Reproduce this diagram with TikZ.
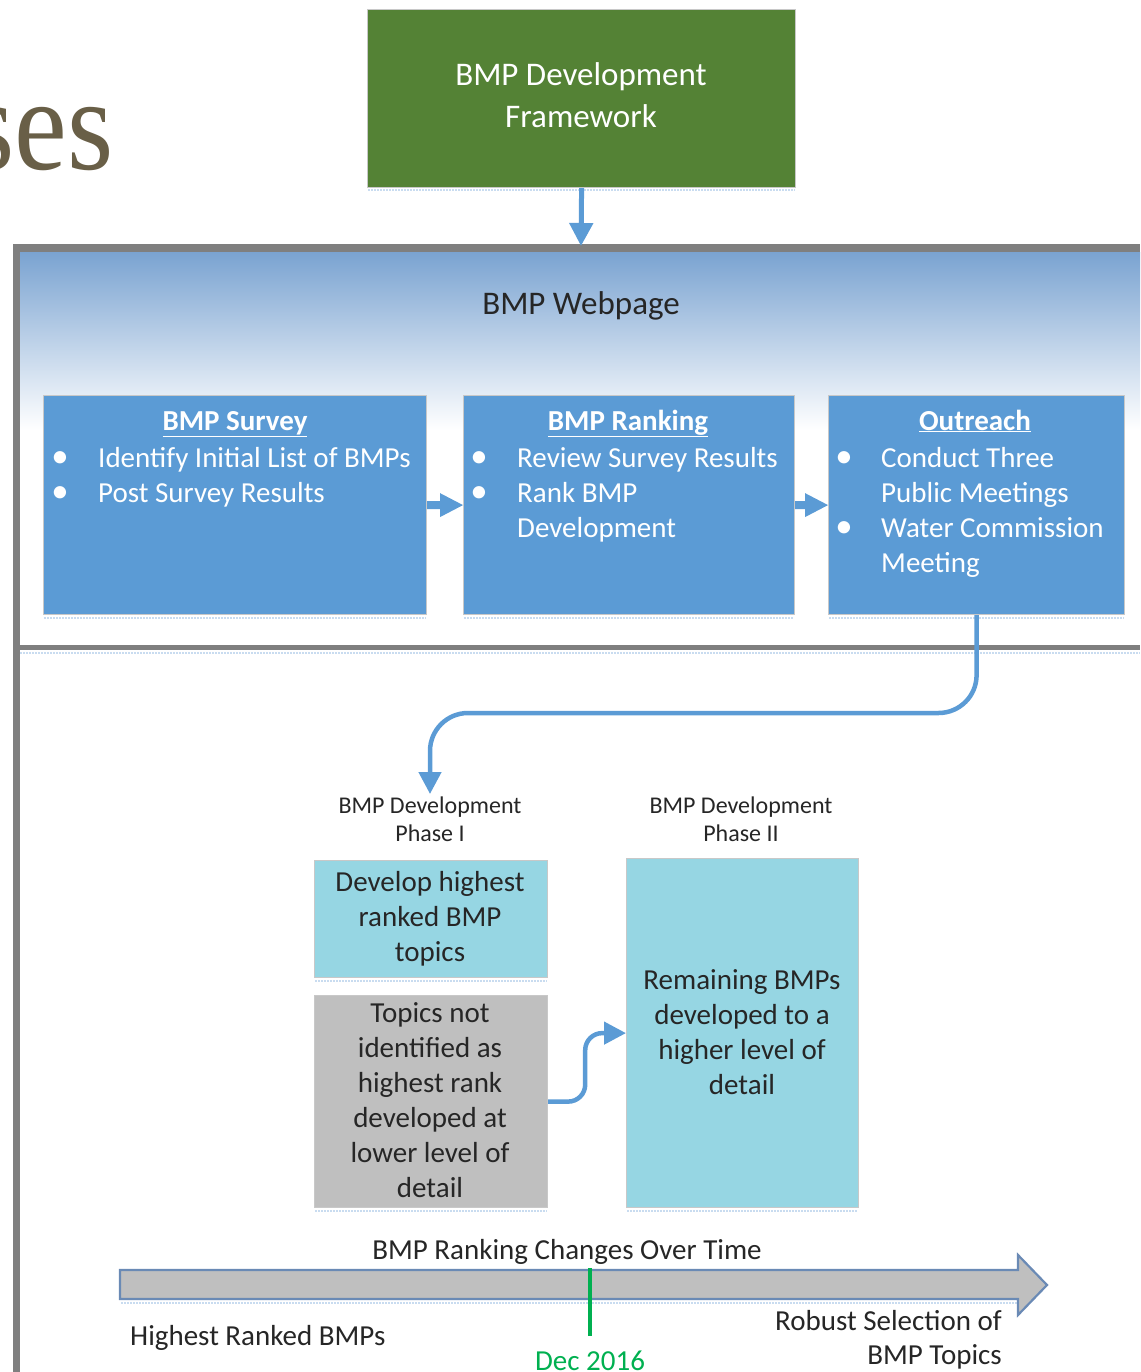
\documentclass[tikz,border=0pt]{standalone}
\usepackage{fontspec}
\setmainfont{Carlito}
\newfontfamily\serifttl{Liberation Serif}
\usetikzlibrary{arrows.meta,calc}

\definecolor{boxblue}{HTML}{5B9BD5}
\definecolor{conblue}{HTML}{5B9BD5}
\definecolor{grn}{HTML}{548235}
\definecolor{cyanbox}{HTML}{96D6E3}
\definecolor{graybox}{HTML}{BFBFBF}
\definecolor{framec}{HTML}{7F7F7F}
\definecolor{gradtop}{HTML}{7AA3D1}
\definecolor{txt}{HTML}{262626}
\definecolor{reflc}{HTML}{C9DCF0}
\definecolor{titlec}{HTML}{695F47}
\definecolor{tlborder}{HTML}{6A8AB5}
\definecolor{markc}{HTML}{00B050}
\definecolor{edgec}{HTML}{C8C8C8}

\tikzset{
  boxbase/.style={draw=edgec, line width=1.2pt, anchor=north west, inner sep=0pt},
  bluebox/.style={boxbase, fill=boxblue},
  cyanb/.style={boxbase, fill=cyanbox},
  grayb/.style={boxbase, fill=graybox},
  greenb/.style={boxbase, fill=grn},
  wt/.style={text=white, inner sep=0pt, font=\fontsize{29pt}{35pt}\selectfont},
  dk/.style={text=txt, inner sep=0pt, font=\fontsize{29pt}{35pt}\selectfont},
  big/.style={inner sep=0pt, font=\fontsize{33pt}{40pt}\selectfont},
  small/.style={text=txt, inner sep=0pt, font=\fontsize{24pt}{28pt}\selectfont},
  conn/.style={draw=conblue, line width=4.5pt, -{Triangle[width=22pt,length=22pt]}},
  refl/.style={draw=reflc, line width=2pt, dash pattern=on 1.5pt off 1.5pt},
}
\newcommand\bul{\scalebox{1.2}{•}}

\begin{document}
\begin{tikzpicture}[x=1pt,y=-1pt]
\useasboundingbox (0,0) rectangle (1140,1372);

% partial slide title
\node[anchor=base east, inner sep=0pt, text=titlec] (ttl) at (114,170)
  {\scalebox{0.9}[1]{\serifttl\fontsize{132pt}{140pt}\selectfont ses}};

% webpage panel gradient
\shade[top color=gradtop, bottom color=white] (20,252) rectangle (1140,430);

% frame
\draw[framec, line width=7pt] (16.5,1372) -- (16.5,248) -- (1140,248);
\draw[framec, line width=5pt] (13,647.5) -- (1140,647.5);
\draw[refl] (20,653) -- (1140,653);

% top green box
\node[greenb, minimum width=428pt, minimum height=178pt] (fw) at (367,9) {};
\draw[refl] (368,190) -- (795,190);
\node[big, text=white, anchor=base] (fw1) at (581,86) {BMP Development};
\node[big, text=white, anchor=base] (fw2) at (581,128) {Framework};
\coordinate (wptop) at (581,246);
\draw[conn, line width=5pt, -{Triangle[width=23pt,length=23pt]}] (fw.south) -- (wptop);

\node[big, text=txt, anchor=base] (wp) at (581,314) {BMP Webpage};

% blue boxes
\node[bluebox, minimum width=383pt, minimum height=219pt] (sv) at (43,395) {};
\node[bluebox, minimum width=331pt, minimum height=219pt] (rk) at (463,395) {};
\node[bluebox, minimum width=296pt, minimum height=219pt] (ou) at (828,395) {};
\draw[refl] (44,618) -- (426,618);
\draw[refl] (464,618) -- (794,618);
\draw[refl] (829,618) -- (1124,618);

% block arrows between boxes
\fill[boxblue] let \p1=(sv.east), \p2=(rk.west) in
  (\x1,\y1+4pt) -- (\x2-23pt,\y1+4pt) -- (\x2-23pt,\y1+12pt) -- (\x2,\y2)
  -- (\x2-23pt,\y1-12pt) -- (\x2-23pt,\y1-4pt) -- (\x1,\y1-4pt) -- cycle;
\fill[boxblue] let \p1=(rk.east), \p2=(ou.west) in
  (\x1,\y1+4pt) -- (\x2-23pt,\y1+4pt) -- (\x2-23pt,\y1+12pt) -- (\x2,\y2)
  -- (\x2-23pt,\y1-12pt) -- (\x2-23pt,\y1-4pt) -- (\x1,\y1-4pt) -- cycle;

% titles
\node[wt, anchor=base] (svt) at (235,430) {\underline{\textbf{BMP Survey}}};
\node[wt, anchor=base] (rkt) at (628,430) {\underline{\textbf{BMP Ranking}}};
\node[wt, anchor=base] (out) at (975,430) {\underline{\textbf{Outreach}}};

% survey items
\node[wt, anchor=base] (svb1) at (60,467) {\bul};
\node[wt, anchor=base west] (sv1) at (98,467) {Identify Initial List of BMPs};
\node[wt, anchor=base] (svb2) at (60,502) {\bul};
\node[wt, anchor=base west] (sv2) at (98,502) {Post Survey Results};

% ranking items
\node[wt, anchor=base] (rkb1) at (479,467) {\bul};
\node[wt, anchor=base west] (rk1) at (517,467) {Review Survey Results};
\node[wt, anchor=base] (rkb2) at (479,502) {\bul};
\node[wt, anchor=base west] (rk2) at (517,502) {Rank BMP};
\node[wt, anchor=base west] (rk3) at (517,537) {Development};

% outreach items
\node[wt, anchor=base] (oub1) at (844,467) {\bul};
\node[wt, anchor=base west] (ou1) at (881,467) {Conduct Three};
\node[wt, anchor=base west] (ou2) at (881,502) {Public Meetings};
\node[wt, anchor=base] (oub2) at (844,537) {\bul};
\node[wt, anchor=base west] (ou3) at (881,537) {Water Commission};
\node[wt, anchor=base west] (ou4) at (881,572) {Meeting};

% phase labels
\node[small, anchor=base] (p1a) at (430,813) {BMP Development};
\node[small, anchor=base] (p1b) at (430,841) {Phase I};
\node[small, anchor=base] (p2a) at (741,813) {BMP Development};
\node[small, anchor=base] (p2b) at (741,841) {Phase II};

\coordinate (p1top) at (430,794);
\draw[conn, rounded corners=38pt] (ou.south) |- (430,713) -- (p1top);

% phase boxes
\node[cyanb, minimum width=233pt, minimum height=117pt] (dev) at (314,860) {};
\node[grayb, minimum width=233pt, minimum height=212pt] (low) at (314,995) {};
\node[cyanb, minimum width=232pt, minimum height=349pt] (rem) at (626,858) {};
\draw[refl] (315,981) -- (547,981);
\draw[refl] (315,1211) -- (547,1211);
\draw[refl] (627,1211) -- (858,1211);

\foreach \t [count=\i] in {Develop highest, ranked BMP, topics}
  \node[dk, anchor=base] (dev\i) at (430,{891+35*(\i-1)}) {\t};
\foreach \t [count=\i] in {Topics not, identified as, highest rank, developed at, lower level of, detail}
  \node[dk, anchor=base] (low\i) at (430,{1022+35*(\i-1)}) {\t};
\foreach \t [count=\i] in {Remaining BMPs, developed to a, higher level of, detail}
  \node[dk, anchor=base] (rem\i) at (742,{989+35*(\i-1)}) {\t};

\draw[conn, rounded corners=17pt] (low.east) -- ++(37,0) |- (rem.west);

% timeline
\node[dk, anchor=base] (tlt) at (567,1259) {BMP Ranking Changes Over Time};
\draw[refl] (121,1303) -- (1017,1303);
\filldraw[fill=graybox, draw=tlborder, line width=2.2pt, line join=miter]
  (120,1270) -- (1018,1270) -- (1018,1255) -- (1047,1285) -- (1018,1315)
  -- (1018,1299) -- (120,1299) -- cycle;
\coordinate (mk1) at (590,1268);
\coordinate (mk2) at (590,1336);
\draw[markc, line width=3.5pt] (mk1) -- (mk2);
\node[dk, anchor=base west] (hi) at (130,1345) {Highest Ranked BMPs};
\node[dk, anchor=base east] (rb1) at (1002,1330) {Robust Selection of};
\node[dk, anchor=base east] (rb2) at (1002,1364) {BMP Topics};
\node[dk, anchor=base, text=markc] (dec) at (590,1370) {Dec 2016};
\end{tikzpicture}
\end{document}
